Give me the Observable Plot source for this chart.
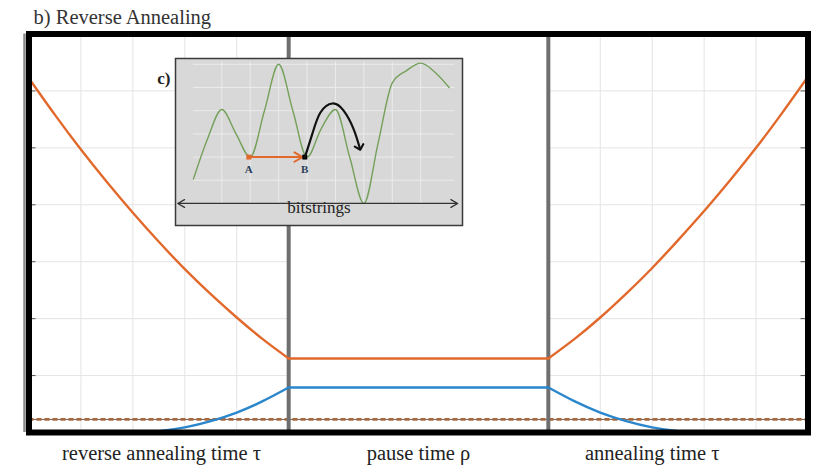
<!DOCTYPE html>
<html><head><meta charset="utf-8">
<script src="https://cdn.jsdelivr.net/npm/d3@7"></script>
<script src="https://cdn.jsdelivr.net/npm/@observablehq/plot@0.6"></script>
<style>
html,body{margin:0;padding:0;background:#fff;}
#wrap{position:relative;width:818px;height:473px;}
#wrap > svg{position:absolute;}
#wrap svg text{font-family:"Liberation Serif","Times New Roman",Times,serif !important;}
</style></head><body><div id="wrap"></div>
<script>
// ---- main chart data ----
const titleText = "b) Reverse Annealing";
const phaseLabels = ["reverse annealing time τ", "pause time ρ", "annealing time τ"];
const phaseLabelX = [2.55, 7.5, 12.0];
const phaseBounds = [5, 10];
const gridSections = [[0, 5], [10, 15]];
const gridXTicks = [1, 2, 3, 4, 11, 12, 13, 14];
const gridYTicks = [1, 2, 3, 4, 5, 6];
const groundLevel = 0.23;

const upperLeftX = [0, 0.5, 1, 1.5, 2, 2.5, 3, 3.5, 4, 4.5, 5];
const upperLeftY = [6.22, 5.58, 4.97, 4.40, 3.86, 3.35, 2.87, 2.43, 2.02, 1.64, 1.30];
const upperPauseX = [5, 10];
const upperPauseY = [1.30, 1.30];
const upperRightX = [10, 10.5, 11, 11.5, 12, 12.5, 13, 13.5, 14, 14.5, 15];
const upperRightY = [1.30, 1.64, 2.02, 2.44, 2.89, 3.38, 3.89, 4.43, 5.0, 5.61, 6.25];

const lowerLeftX = [2, 2.5, 3, 3.5, 4, 4.5, 5];
const lowerLeftY = [0, 0.025, 0.09, 0.2, 0.35, 0.55, 0.79];
const lowerPauseX = [5, 10];
const lowerPauseY = [0.79, 0.79];
const lowerRightX = [10, 10.5, 11, 11.5, 12, 12.5, 13];
const lowerRightY = [0.79, 0.55, 0.35, 0.2, 0.09, 0.025, 0];

// ---- inset data ----
const bitPos = [0, 0.5, 1, 1.5, 2, 2.5, 3, 3.5, 4, 4.5, 5, 5.5, 6, 6.5, 7, 7.5, 8, 8.5, 9];
const energy = [1.05, 2.79, 4.05, 3.0, 2.0, 4.0, 6.0, 4.0, 2.0, 3.23, 4.05, 2.0, 0.0, 2.6, 5.2, 5.73, 6.05, 5.66, 5.0];
const insetGridX = [1, 2, 3, 4, 5, 6, 7, 8];
const insetGridY = [1, 2, 3, 4, 5, 6];
const insetGridSpanY = [0, 6.1];
const insetGridSpanX = [0, 9.2];
const stateA = {x: 1.95, y: 2, label: "A"};
const stateB = {x: 3.92, y: 2, label: "B"};
const jumpX = [3.92, 4.19, 4.47, 4.89, 5.28, 5.63, 5.85];
const jumpY = [1.98, 3.02, 3.92, 4.31, 4.01, 3.23, 2.41];
const bitAxisSpan = [-0.55, 9.3];
const bitAxisLabel = "bitstrings";
const insetTag = "c)";

// ---- build tables ----
const ORANGE = "#e2692c", BLUE = "#2b87cc";
function seg(series, part, xs, ys) { return xs.map((x, i) => ({series, part: series + part, x, y: ys[i]})); }
const curves = [
  ...seg("upper", "L", upperLeftX, upperLeftY),
  ...seg("upper", "P", upperPauseX, upperPauseY),
  ...seg("upper", "R", upperRightX, upperRightY),
  ...seg("lower", "L", lowerLeftX, lowerLeftY),
  ...seg("lower", "P", lowerPauseX, lowerPauseY),
  ...seg("lower", "R", lowerRightX, lowerRightY)
];
const gridYRows = gridSections.flatMap(([a, b]) => gridYTicks.map(y => ({y, x1: a, x2: b})));
const labelRows = phaseLabels.map((t, i) => ({t, x: phaseLabelX[i]}));
const landscape = bitPos.map((x, i) => ({x, y: energy[i]}));
const jump = jumpX.map((x, i) => ({x, y: jumpY[i]}));
const axisMid = (bitAxisSpan[0] + bitAxisSpan[1]) / 2;
const axisHalves = bitAxisSpan.map(end => ({from: axisMid, to: end}));

const serif = "'Liberation Serif', 'Times New Roman', Times, serif";

const main = Plot.plot({
  width: 818, height: 473,
  marginLeft: 28.5, marginRight: 10.5, marginTop: 33.5, marginBottom: 41,
  x: {domain: [0, 15], axis: null},
  y: {domain: [0, 7], axis: null},
  style: {fontFamily: serif, background: "white", overflow: "visible"},
  marks: [
    Plot.ruleX(gridXTicks, {stroke: "#e4e4e4", strokeWidth: 1}),
    Plot.ruleY(gridYRows, {y: "y", x1: "x1", x2: "x2", stroke: "#e4e4e4", strokeWidth: 1}),
    Plot.ruleY([groundLevel], {stroke: "#6e5a4e", strokeWidth: 1}),
    Plot.ruleY([groundLevel], {stroke: "#a8683e", strokeWidth: 2.6, strokeDasharray: "5,3"}),
    Plot.ruleX(phaseBounds, {stroke: "#6f6f6f", strokeWidth: 4}),
    Plot.ruleX([0], {dx: -4.5, stroke: "#8a8a8a", strokeWidth: 2.5}),
    Plot.line(curves, {x: "x", y: "y", z: "part", stroke: d => d.series === "upper" ? ORANGE : BLUE,
      strokeWidth: 2.4, curve: "natural", clip: true}),
    Plot.axisY(gridYTicks, {anchor: "right", label: null, tickSize: 5, dx: -8, tickFormat: () => "", stroke: "#555"}),
    Plot.axisY(gridYTicks, {anchor: "left", label: null, tickSize: 4, dx: 7, tickFormat: () => "", stroke: "#555"}),
    Plot.frame({stroke: "#000", strokeWidth: 6}),
    Plot.text([titleText], {frameAnchor: "top-left", dx: 4.5, dy: -16.5, textAnchor: "start",
      lineAnchor: "middle", fontSize: 20.5, fontFamily: serif, fill: "#333"}),
    Plot.text(labelRows, {x: "x", text: "t", frameAnchor: "bottom", dy: 27, fontSize: 20.5, fontFamily: serif, fill: "#222"})
  ]
});

const inset = Plot.plot({
  width: 330, height: 180,
  marginLeft: 35, marginRight: 8, marginTop: 8, marginBottom: 5,
  x: {domain: [-0.63, 9.47], axis: null},
  y: {domain: [-0.95, 6.25], axis: null},
  style: {fontFamily: serif, background: "transparent", overflow: "visible"},
  marks: [
    Plot.frame({fill: "#d8d8d8"}),
    Plot.ruleX(insetGridX, {y1: insetGridSpanY[0], y2: insetGridSpanY[1], stroke: "#ebebeb", strokeWidth: 1}),
    Plot.ruleY(insetGridY, {x1: insetGridSpanX[0], x2: insetGridSpanX[1], stroke: "#ebebeb", strokeWidth: 1}),
    Plot.line(landscape, {x: "x", y: "y", curve: "monotone-x", stroke: "#74a05a", strokeWidth: 1.4}),
    Plot.arrow(axisHalves, {x1: "from", x2: "to", y1: 0, y2: 0, stroke: "#333", strokeWidth: 1.3, headLength: 9}),
    Plot.arrow([[stateA, stateB]], {x1: d => d[0].x, y1: d => d[0].y, x2: d => d[1].x - 0.08, y2: d => d[1].y,
      stroke: ORANGE, strokeWidth: 2, headLength: 7}),
    Plot.dot([stateA], {x: "x", y: "y", symbol: "square", r: 2.8, fill: ORANGE}),
    Plot.dot([stateB], {x: "x", y: "y", symbol: "square", r: 2.8, fill: "#000"}),
    Plot.line(jump, {x: "x", y: "y", curve: "natural", stroke: "#111", strokeWidth: 2.2, markerEnd: "arrow"}),
    Plot.text([stateA, stateB], {x: "x", y: "y", text: "label", dy: 12, fontSize: 11, fontWeight: "bold", fontFamily: serif, fill: "#2c3e5c"}),
    Plot.text([bitAxisLabel], {frameAnchor: "bottom", dy: -13, fontSize: 17, fontFamily: serif, fill: "#222"}),
    Plot.text([insetTag], {frameAnchor: "top-left", dx: -5, dy: 13, textAnchor: "end", fontSize: 17, fontWeight: "bold", fontFamily: serif, fill: "#222"}),
    Plot.frame({stroke: "#3a3a3a", strokeWidth: 1.5})
  ]
});

const wrap = document.getElementById("wrap");
main.style.left = "0px"; main.style.top = "0px";
inset.style.left = "140px"; inset.style.top = "50px";
wrap.appendChild(main);
wrap.appendChild(inset);
</script></body></html>
